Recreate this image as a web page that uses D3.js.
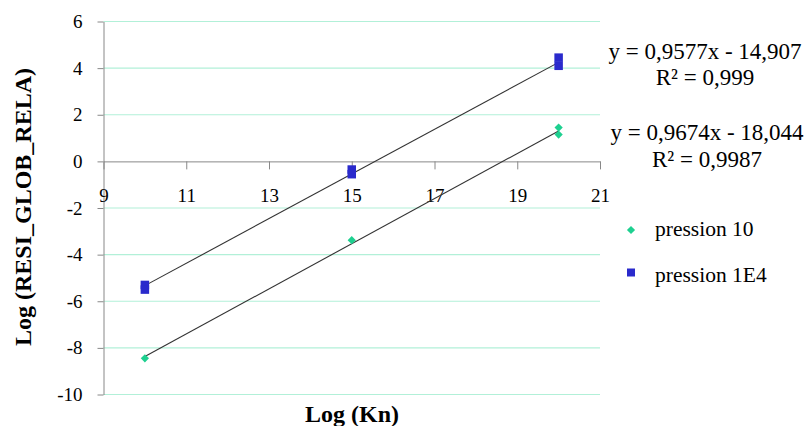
<!DOCTYPE html>
<html><head><meta charset="utf-8">
<script src="https://cdn.jsdelivr.net/npm/d3@7"></script>
<style>body{margin:0;background:#fff}svg{display:block}svg text{font-family:"Liberation Serif","Times New Roman",serif !important}</style>
</head><body><div id="chart"></div>
<script>
const seriesNames = ["pression 10", "pression 1E4"];
const xP10 = [10, 15, 20, 20];
const yP10 = [-8.45, -3.38, 1.45, 1.15];
const xP1E4 = [10, 10, 15, 15, 20, 20];
const yP1E4 = [-5.3, -5.5, -0.35, -0.55, 4.45, 4.1];
const slopes = [0.9674, 0.9577];
const intercepts = [-18.044, -14.907];
const eqLabels = ["y = 0,9674x - 18,044", "y = 0,9577x - 14,907"];
const r2Labels = ["R² = 0,9987", "R² = 0,999"];
const xTicks = [9, 11, 13, 15, 17, 19, 21];
const yTicks = [-10, -8, -6, -4, -2, 0, 2, 4, 6];
const colors = ["#1ed090", "#2a2acc"];

const FONT = "Liberation Serif, Times New Roman, serif";
const W = 807, H = 426;
const svg = d3.select("#chart").append("svg").attr("width", W).attr("height", H)
  .attr("font-family", FONT);
const x = d3.scaleLinear().domain([9, 21]).range([103.5, 600]);
const y = d3.scaleLinear().domain([-10, 6]).range([394.5, 21.5]);

// gridlines
svg.append("g").selectAll("line").data(yTicks.filter(d => d !== 0)).join("line")
  .attr("x1", x(9)).attr("x2", x(21)).attr("y1", d => y(d)).attr("y2", d => y(d))
  .attr("stroke", "#b2f0d8").attr("stroke-width", 1.2);

// y axis
const yAxis = svg.append("g").attr("transform", `translate(${x(9)},0)`)
  .call(d3.axisLeft(y).tickValues(yTicks).tickSize(6).tickSizeOuter(0).tickPadding(15).tickFormat(d => String(d)))
  .attr("font-family", FONT);
yAxis.select(".domain").attr("stroke", "#888");
yAxis.selectAll(".tick line").attr("stroke", "#888");
yAxis.selectAll("text").attr("font-size", 19).attr("fill", "#000");

// x axis at y=0
const xAxis = svg.append("g").attr("transform", `translate(0,${y(0)})`)
  .call(d3.axisBottom(x).tickValues(xTicks).tickSize(8).tickSizeOuter(0).tickPadding(19).tickFormat(d => String(d)))
  .attr("font-family", FONT);
xAxis.select(".domain").attr("stroke", "#888");
xAxis.selectAll(".tick line").attr("stroke", "#888");
xAxis.selectAll("text").attr("font-size", 19).attr("fill", "#000");

// trendlines
[0, 1].forEach(i => {
  svg.append("line")
    .attr("x1", x(10)).attr("y1", y(slopes[i] * 10 + intercepts[i]))
    .attr("x2", x(20)).attr("y2", y(slopes[i] * 20 + intercepts[i]))
    .attr("stroke", "#333").attr("stroke-width", 1.1);
});

// points
const p10 = xP10.map((d, i) => [d, yP10[i]]);
const p1e4 = xP1E4.map((d, i) => [d, yP1E4[i]]);
const diamond = d3.symbol(d3.symbolSquare, 34);
svg.append("g").selectAll("rect").data(p1e4).join("rect")
  .attr("x", d => x(d[0]) - 4.25).attr("y", d => y(d[1]) - 4.25)
  .attr("width", 8.5).attr("height", 8.5).attr("fill", colors[1]);
svg.append("g").selectAll("path").data(p10).join("path")
  .attr("transform", d => `translate(${x(d[0])},${y(d[1])}) rotate(45)`)
  .attr("d", diamond).attr("fill", colors[0]);

// equations
const eqPos = [[707, 140, 167], [705, 59, 85]];
[0, 1].forEach(i => {
  svg.append("text").attr("x", eqPos[i][0]).attr("y", eqPos[i][1]).attr("text-anchor", "middle")
    .attr("font-size", 23).text(eqLabels[i]);
  svg.append("text").attr("x", eqPos[i][0]).attr("y", eqPos[i][2]).attr("text-anchor", "middle")
    .attr("font-size", 23).text(r2Labels[i]);
});

// legend
const lg = svg.append("g");
lg.append("path").attr("transform", "translate(631,230) rotate(45)").attr("d", diamond).attr("fill", colors[0]);
lg.append("rect").attr("x", 627).attr("y", 268.5).attr("width", 8).attr("height", 8).attr("fill", colors[1]);
lg.append("text").attr("x", 655).attr("y", 236).attr("font-size", 21.5).text(seriesNames[0]);
lg.append("text").attr("x", 655).attr("y", 281.5).attr("font-size", 21.5).text(seriesNames[1]);

// axis titles
svg.append("text").attr("x", 352).attr("y", 422).attr("text-anchor", "middle")
  .attr("font-size", 24).attr("font-weight", "bold").text("Log (Kn)");
svg.append("text").attr("transform", "translate(31,207) rotate(-90)").attr("text-anchor", "middle")
  .attr("font-size", 24).attr("font-weight", "bold").text("Log (RESI_GLOB_RELA)");
</script></body></html>
